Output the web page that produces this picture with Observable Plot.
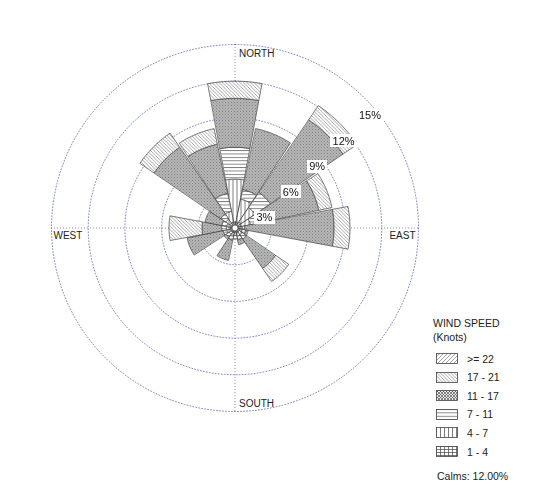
<!DOCTYPE html>
<html><head><meta charset="utf-8">
<script src="https://cdn.jsdelivr.net/npm/d3@7"></script>
<script src="https://cdn.jsdelivr.net/npm/@observablehq/plot@0.6"></script>
<style>
body{margin:0;background:#fff;font-family:"Liberation Sans",Arial,sans-serif;}
#wrap{position:relative;width:536px;height:490px;overflow:hidden;}
#legend{position:absolute;left:0;top:0;width:536px;height:490px;pointer-events:none;font-size:10.5px;color:#222;}
#legend .t{position:absolute;white-space:nowrap;line-height:12px;}
#legend svg{position:absolute;}
</style></head><body>
<svg width="0" height="0" style="position:absolute">
<defs>
<filter id="bg" x="-0.1" y="0" width="1.2" height="1" color-interpolation-filters="sRGB"><feFlood flood-color="white"/><feComposite in="SourceGraphic"/></filter>
<pattern id="p0" width="4" height="3" patternUnits="userSpaceOnUse"><rect width="4" height="3" fill="#fff"/><path d="M0 0.5H4M0.5 0V3" stroke="#444" stroke-width="0.7"/></pattern>
<pattern id="p1" width="4" height="4" patternUnits="userSpaceOnUse"><rect width="4" height="4" fill="#fff"/><path d="M0.5 0V4" stroke="#444" stroke-width="0.7"/></pattern>
<pattern id="p2" width="4" height="3.4" patternUnits="userSpaceOnUse"><rect width="4" height="3.4" fill="#fff"/><path d="M0 0.5H4" stroke="#444" stroke-width="0.7"/></pattern>
<pattern id="p3" width="3" height="3" patternUnits="userSpaceOnUse"><rect width="3" height="3" fill="#ececec"/><path d="M0 0L3 3M3 0L0 3" stroke="#444" stroke-width="0.65"/></pattern>
<pattern id="p4" width="3.5" height="3.5" patternUnits="userSpaceOnUse"><rect width="3.5" height="3.5" fill="#fff"/><path d="M0 0L3.5 3.5M-1 2.5L1 4.5M2.5 -1L4.5 1" stroke="#666" stroke-width="0.6"/></pattern>
<pattern id="p5" width="4" height="4" patternUnits="userSpaceOnUse"><rect width="4" height="4" fill="#fff"/><path d="M0 4L4 0M-1 1L1 -1M3 5L5 3" stroke="#666" stroke-width="0.6"/></pattern>
</defs></svg>
<div id="wrap"></div>
<script>
// ---- data ----
const directions = ["N","NNE","NE","ENE","E","ESE","SE","SSE","S","SSW","SW","WSW","W","WNW","NW","NNW"];
const speedClasses = ["1 - 4","4 - 7","7 - 11","11 - 17","17 - 21",">= 22"];
// frequency (%) per speed class, by direction (N ... NNW)
const freq1to4   = [0.25,0.25,0.35,0.25,0.15,0.15,0.15,0.15,0.15,0.15,0.15,0.15,0.15,0.15,0.25,0.25];
const freq4to7   = [3.5,1.9,1.4,0.8,0.2,0.2,0.3,0.3,0.2,0.3,0.2,0.3,0.3,0.3,0.4,0.9];
const freq7to11  = [2.6,0.8,1.5,0.9,0.2,0.3,0.4,0.3,0.3,0.3,0.3,0.3,0.4,0.4,0.5,1.5];
const freq11to17 = [4.0,5.1,7.2,4.8,7.3,0.2,2.9,0.4,0.0,1.7,0.2,3.0,1.6,1.4,6.6,4.1];
const freq17to21 = [1.4,0.0,1.4,1.1,1.3,0.0,1.3,0.0,0.0,0.0,0.0,0.0,2.7,0.0,1.4,1.3];
const freq22plus = [0,0,0,0,0,0,0,0,0,0,0,0,0,0,0,0];
const ringValues = [3,6,9,12,15];
const ringLabels = ["3%","6%","9%","12%","15%"];
const compassLabels = ["NORTH","EAST","SOUTH","WEST"];
const legendTitle = ["WIND SPEED","(Knots)"];
const calmsLabel = "Calms: 12.00%";

// ---- build ----
const classFreqs = [freq1to4,freq4to7,freq7to11,freq11to17,freq17to21,freq22plus];
const patternIds = ["p0","p1","p2","p3","p4","p5"];
const base = 0.25;         // calm circle radius (in % units)
const halfWidth = 10.6;    // sector half width, degrees
const rad = d => d * Math.PI / 180;
const wedges = [];
directions.forEach((dir, i) => {
  const bearing = i * 22.5;
  let r0 = base;
  classFreqs.forEach((arr, k) => {
    const r1 = r0 + arr[i];
    if (arr[i] > 0) {
      const id = dir + "-" + k;
      const n = 14;
      for (let j = 0; j <= n; j++) {
        const a = rad(bearing - halfWidth + 2 * halfWidth * j / n);
        wedges.push({id, k, x: r1 * Math.sin(a), y: r1 * Math.cos(a)});
      }
      for (let j = n; j >= 0; j--) {
        const a = rad(bearing - halfWidth + 2 * halfWidth * j / n);
        wedges.push({id, k, x: r0 * Math.sin(a), y: r0 * Math.cos(a)});
      }
    }
    r0 = r1;
  });
});
const rings = [];
ringValues.forEach(v => {
  for (let j = 0; j <= 180; j++) {
    const a = rad(j * 2);
    rings.push({v, x: v * Math.sin(a), y: v * Math.cos(a)});
  }
});
const R = ringValues[ringValues.length - 1];
const gridColor = "#6b6bc0";
const labAng = rad(46);
const font = "Liberation Sans, Arial, sans-serif";

const marks = [
  Plot.line(rings, {x: "x", y: "y", z: "v", stroke: gridColor, strokeWidth: 0.8, strokeDasharray: "1,2"}),
  Plot.ruleX([0], {y1: -R, y2: R, stroke: gridColor, strokeWidth: 0.8, strokeDasharray: "1,2"}),
  Plot.ruleY([0], {x1: -R, x2: R, stroke: gridColor, strokeWidth: 0.8, strokeDasharray: "1,2"})
];
patternIds.forEach((pid, k) => {
  marks.push(Plot.line(wedges.filter(d => d.k === k), {x: "x", y: "y", z: "id", curve: "linear-closed",
    fill: `url(#${pid})`, stroke: "#444", strokeWidth: 0.7}));
});
marks.push(
  Plot.dot([{x: 0, y: 0}], {x: "x", y: "y", r: 3, fill: "white", stroke: "#444", strokeWidth: 0.7}),
  Plot.text(ringValues, {x: v => v * Math.sin(labAng), y: v => v * Math.cos(labAng),
    text: (v, i) => ringLabels[i], dx: 3, dy: 15, fill: "#111", className: "ringlab",
    fontSize: 11, fontFamily: font}),
  Plot.text([compassLabels[0]], {x: () => 0, y: () => R, text: d => d, dx: 4, dy: 9, textAnchor: "start", fill: "#222", fontSize: 10, fontFamily: font}),
  Plot.text([compassLabels[1]], {x: () => R, y: () => 0, text: d => d, dx: -3, dy: 8, textAnchor: "end", fill: "#222", fontSize: 10, fontFamily: font}),
  Plot.text([compassLabels[2]], {x: () => 0, y: () => -R, text: d => d, dx: 4, dy: -8, textAnchor: "start", fill: "#222", fontSize: 10, fontFamily: font}),
  Plot.text([compassLabels[3]], {x: () => -R, y: () => 0, text: d => d, dx: 2, dy: 8, textAnchor: "start", fill: "#222", fontSize: 10, fontFamily: font})
);

const chart = Plot.plot({
  width: 536, height: 490,
  marginLeft: 51, marginRight: 118, marginTop: 44, marginBottom: 79,
  x: {domain: [-R, R], axis: null},
  y: {domain: [-R, R], axis: null},
  style: {background: "white", overflow: "visible"},
  marks
});
chart.querySelectorAll(".ringlab text").forEach(t => t.setAttribute("filter", "url(#bg)"));
const wrap = document.getElementById("wrap");
wrap.appendChild(chart);

// ---- legend ----
const leg = document.createElement("div");
leg.id = "legend";
let html = `<div class="t" style="left:433px;top:317px">${legendTitle[0]}</div>
<div class="t" style="left:433px;top:331px">${legendTitle[1]}</div>`;
const order = [5,4,3,2,1,0];
order.forEach((k, row) => {
  const top = 353 + row * 18.6;
  html += `<svg style="left:436px;top:${top}px" width="22" height="11"><rect x="0.5" y="0.5" width="21" height="10" fill="url(#${patternIds[k]})" stroke="#444" stroke-width="0.8"/></svg>
  <div class="t" style="left:467px;top:${top - 0.5}px">${speedClasses[k].replace(">", "&gt;")}</div>`;
});
html += `<div class="t" style="left:437px;top:470px">${calmsLabel}</div>`;
leg.innerHTML = html;
wrap.appendChild(leg);
</script>
</body></html>
